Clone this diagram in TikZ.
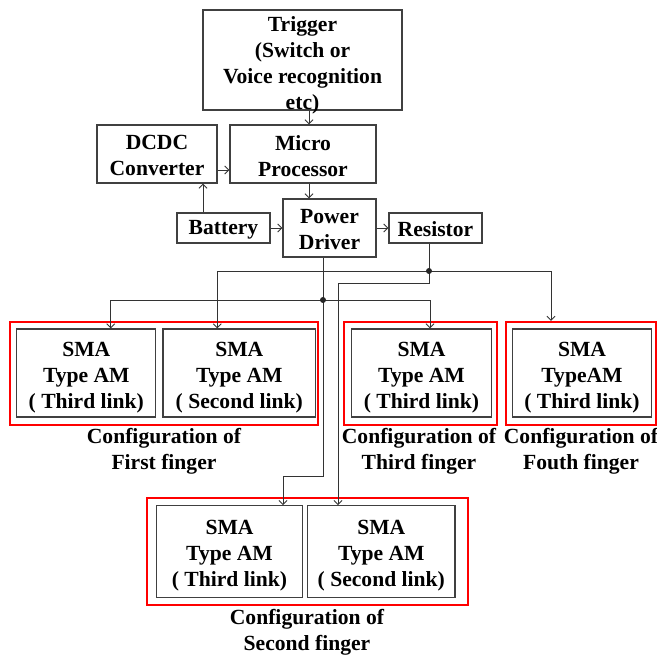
\documentclass[tikz,border=0pt]{standalone}
\usepackage{fontspec}
\setmainfont{Liberation Serif}
\usetikzlibrary{arrows.meta}
\newcommand{\liftx}[1]{\rule{0pt}{#1pt}}

\begin{document}
\begin{tikzpicture}[x=1pt,y=-1pt,
    >={Straight Barb[length=4pt,width=8pt]},
    blk/.style={draw=black!75,line width=1.3pt,minimum width=93pt,minimum height=58pt,
      inner sep=0pt,align=center,font=\fontsize{21.6}{26}\selectfont\bfseries},
    sma/.style={blk,minimum width=139pt,minimum height=88pt},
    frame/.style={draw=red,line width=2pt,inner sep=0pt,minimum height=103pt},
    fingcap/.style={align=center,inner sep=0pt,font=\fontsize{21.6}{26}\selectfont\bfseries},
    wire/.style={draw=black!80,line width=0.9pt}]
  \useasboundingbox (0,0) rectangle (657,655);

  % control part
  \node [blk,minimum width=199pt,minimum height=100pt] (trig) at (302.5,60)
    {\raisebox{-10.5pt}[0pt][0pt]{\begin{tabular}{@{}c@{}}Trigger\\(Switch or\\Voice recognition\\etc)\end{tabular}}};
  \node [blk,minimum width=120pt] (dcdc) at (157,154) {\liftx{18}DCDC\\Converter};
  \node [blk,minimum width=146pt] (micro) at (303,154) {\liftx{19}Micro\\Processor};
  \node [blk] (pow) at (329.5,228) {\liftx{18}Power\\Driver};
  \node [blk,minimum height=30pt] (bat) at (223.5,228) {\liftx{18}Battery};
  \node [blk,minimum height=30pt] (res) at (435.5,228) {\liftx{17}Resistor};

  % fingers
  \node [frame,minimum width=307.8pt] (fr1) at (163.9,373.3) {};
  \node [frame,minimum width=152.6pt] (fr3) at (420.3,373.3) {};
  \node [frame,minimum width=149.8pt] (fr4) at (580.9,373.3) {};
  \node [frame,minimum width=320.4pt,minimum height=107pt] (fr2) at (307.5,551.5) {};

  \node [sma] (f1a) at (86.3,373) {\liftx{23}SMA\\Type AM\\( Third link)};
  \node [sma,minimum width=152.6pt] (f1b) at (239.3,373) {\liftx{23}SMA\\Type AM\\( Second link)};
  \node [sma,minimum width=140pt] (f3) at (421.5,373) {\liftx{23}SMA\\Type AM\\( Third link)};
  \node [sma] (f4) at (582,373) {\liftx{23}SMA\\TypeAM\\( Third link)};
  \node [sma,minimum width=145.6pt,minimum height=92pt] (s2a) at (229.5,551.7) {\liftx{22}SMA\\Type AM\\( Third link)};
  \node [sma,minimum width=147.3pt,minimum height=92pt] (s2b) at (381.3,551.7) {\liftx{22}SMA\\Type AM\\( Second link)};

  \node [fingcap] (c1) at (164,451.5) {Configuration of\\First finger};
  \node [fingcap] (c3) at (419,451.5) {Configuration of\\Third finger};
  \node [fingcap] (c4) at (581,451.5) {Configuration of\\Fouth finger};
  \node [fingcap] (c2) at (307,632.5) {Configuration of\\Second finger};

  % connectors
  \draw [wire,->] ([xshift=6.5pt]trig.south) -- ([xshift=6pt]micro.north);
  \draw [wire,->] ([yshift=-16pt]dcdc.east) -- ([yshift=-16pt]micro.west);
  \draw [wire,->] ([xshift=6pt]micro.south) -- ([xshift=6pt]micro.south |- pow.north);
  \draw [wire,->] ([xshift=-20.5pt]bat.north) -- ([xshift=-20.5pt]bat.north |- dcdc.south);
  \draw [wire,->] (bat) -- (pow);
  \draw [wire,->] (pow) -- (res);

  \coordinate (jr) at (429,271);
  \coordinate (jp) at (323,300);
  \draw [wire] ([xshift=-6.5pt]res.south) -- (jr);
  \draw [wire] ([xshift=-6.5pt]pow.south) -- (jp);
  \draw [wire,->] (jr) -| ([xshift=-22pt]f1b.north);
  \draw [wire,->] (jr) -| ([xshift=-29.9pt]fr4.north);
  \draw [wire,->] (jr) -- ++(0,12) -| ([xshift=-43.3pt]s2b.north);
  \draw [wire,->] (jp) -| ([xshift=24.4pt]f1a.north);
  \draw [wire,->] (jp) -| ([xshift=8.5pt]f3.north);
  \draw [wire,->] (jp) -- ++(0,176) -| ([xshift=53.5pt]s2a.north);
  \fill [black!85] (jr) circle (3pt);
  \fill [black!85] (jp) circle (3pt);
\end{tikzpicture}
\end{document}
